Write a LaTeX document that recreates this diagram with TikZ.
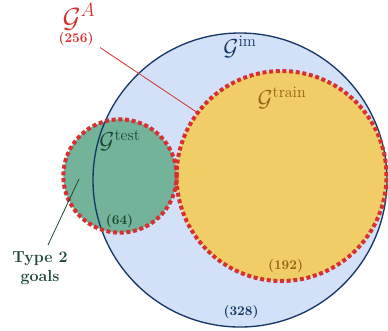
\documentclass[tikz,border=0pt]{standalone}
\usepackage{amsmath,amssymb}
\usepackage{xcolor}
\usepackage{tikz}
\usetikzlibrary{backgrounds,calc}

\definecolor{imfill}{RGB}{210,225,248}
\definecolor{imline}{RGB}{22,56,102}
\definecolor{trainfill}{RGB}{240,205,102}
\definecolor{traintext}{RGB}{150,100,22}
\definecolor{testfill}{RGB}{114,179,154}
\definecolor{testtext}{RGB}{30,72,52}
\definecolor{adotred}{RGB}{214,48,48}

\begin{document}
\begin{tikzpicture}[
  x=0.75pt, y=-0.75pt,
  setcirc/.style={circle, inner sep=0pt, outer sep=0pt},
  adots/.style={draw=adotred, line width=3pt, dash pattern=on 3pt off 2pt},
  setname/.style={font=\LARGE, inner sep=0pt},
  count/.style={font=\normalsize\bfseries, inner sep=0pt},
  thinline/.style={line width=0.6pt}
]
\useasboundingbox (0,0) rectangle (388,330);

% Sets
\node[setcirc, draw=imline, line width=1pt, minimum size=220.5pt] (im) at (240,180) {};
\node[setcirc, adots, minimum size=157.5pt] (train) at (281.5,176) {};
\node[setcirc, adots, minimum size=85pt] (test) at (120,176) {};

% Fills behind the borders
\begin{scope}[on background layer]
  \fill[imfill] (im.center) circle[radius=147];
  \fill[trainfill] (train.center) circle[radius=105];
  \fill[testfill] (test.center) circle[radius=56.7];
\end{scope}

% Labels
\node[setname, text=imline] (imname) at (240,47) {$\mathcal{G}^{\text{im}}$};
\node[setname, text=traintext] (trainname) at (282,98) {$\mathcal{G}^{\text{train}}$};
\node[setname, text=testtext] (testname) at (120,141) {$\mathcal{G}^{\text{test}}$};
\node[setname, font=\huge, text=adotred, anchor=base] (aname) at (79,27) {$\mathcal{G}^{A}$};

\node[count, text=adotred, anchor=base] (acount) at (76,42.5) {(256)};
\node[count, text=imline] (imcount) at (241,312.5) {(328)};
\node[count, text=traintext] (traincount) at (285.5,266) {(192)};
\node[count, text=testtext] (testcount) at (119.5,221) {(64)};

\node[text=testtext, font=\large\bfseries, align=center, inner sep=0pt] (type2) at (40,268.5)
  {Type 2\\goals};

% Pointers
\coordinate (apoint) at (100,47.5);
\coordinate (t2in) at (79,179);
\coordinate (t2out) at (48,245);
\draw[thinline, adotred] (apoint) -- (train.143);
\draw[thinline, testtext] (t2out) -- (t2in);

\end{tikzpicture}
\end{document}
